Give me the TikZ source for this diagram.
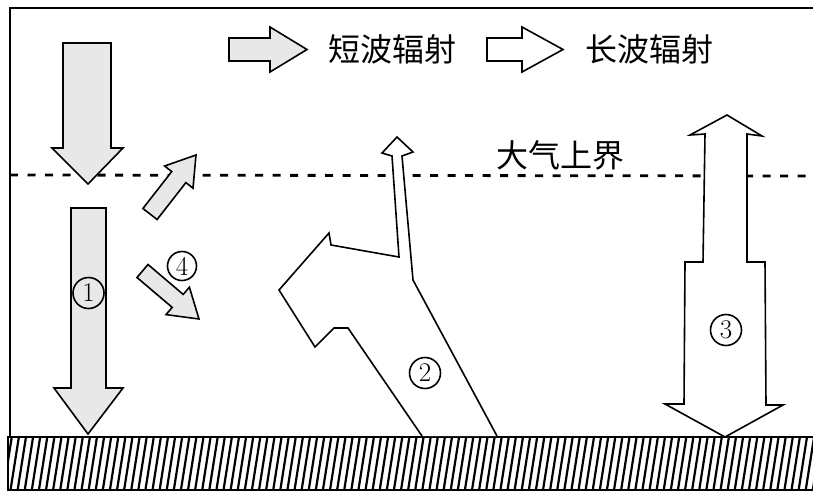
\documentclass[tikz,border=0pt]{standalone}
\usepackage{fontspec}
\newfontfamily\cjk{Noto Sans CJK SC}
\definecolor{swgray}{HTML}{E8E8E8}
\begin{document}
\begin{tikzpicture}[x=1pt,y=-1pt,
  swarrow/.style={draw=black, line width=1.6pt, fill=swgray, line join=miter},
  lwarrow/.style={draw=black, line width=1.6pt, fill=white, line join=miter},
  frameline/.style={line width=1.8pt},
  numlabel/.style={circle, draw, line width=1.6pt, inner sep=0pt, minimum size=31pt, font=\fontsize{27}{27}\selectfont},
  cjklabel/.style={font=\cjk\fontsize{32}{32}\selectfont, inner sep=0pt}]
\useasboundingbox (0,0) rectangle (813,496);
\fill[white] (0,0) rectangle (813,496);
% frame
\draw[frameline] (813,8) -- (10,8) -- (10,437);
% dashed top of atmosphere
\draw[line width=2.8pt, dash pattern=on 8pt off 9.5pt] (10,175) -- (813,176);
% ground hatching
\begin{scope}
\clip (8,437) rectangle (813,490);
\foreach \i in {0,...,117} {
  \draw[line width=2.2pt] ({-4+7.1*\i},492) -- ({5+7.1*\i},435);
}
\end{scope}
\draw[frameline] (813,437) -- (8,437) -- (8,490) -- (813,490);
% legend arrows
\draw[swarrow] (229,38) -- (270,38) -- (270,27) -- (307,49.5) -- (270,72) -- (270,61) -- (229,61) -- cycle;
\node[cjklabel] (sw) at (392,49) {短波辐射};
\draw[lwarrow] (487,38) -- (522,38) -- (522,27) -- (563,49.5) -- (522,72) -- (522,61) -- (487,61) -- cycle;
\node[cjklabel] (lw) at (649,49) {长波辐射};
\node[cjklabel] (toa) at (560,155) {大气上界};
% arrow 1 (incoming solar)
\draw[swarrow] (63,43) -- (111,43) -- (111,148) -- (123,148) -- (88,184) -- (52,148) -- (63,148) -- cycle;
\draw[swarrow] (71,208) -- (106,208) -- (106,388) -- (123,388) -- (88,434) -- (54,388) -- (71,388) -- cycle;
\node[numlabel] (n1) at (88.5,293) {1};
% reflected up
\draw[swarrow] (142.9,208.5) -- (171.7,171.6) -- (164.6,166.0) -- (196,155) -- (193.0,188.2) -- (185.9,182.6) -- (157.1,219.5) -- cycle;
% arrow 4
\draw[swarrow] (137,277.5) -- (172.2,307.4) -- (166.0,314.6) -- (199,319) -- (189.4,287.2) -- (183.2,294.4) -- (148,264.5) -- cycle;
\node[numlabel, minimum size=29pt] (n4) at (182,266) {4};
% arrow 2 (ground radiation)
\draw[lwarrow] (422,436) -- (348,328) -- (334,328) -- (315,347) -- (279,290) -- (329,233) -- (331,245) -- (399,257) -- (392,156) -- (382,153) -- (397,137) -- (413,152) -- (402,156) -- (413,280) -- (497,436);
\node[numlabel] (n2) at (425,373) {2};
% arrow 3 (atmospheric counter radiation)
\draw[lwarrow] (727,115) -- (762,136) -- (747,134) -- (747,262) -- (765,262) -- (766,405) -- (783,405) -- (725,437) -- (665,404) -- (684,404) -- (685,262) -- (703,262) -- (705,134) -- (690,135) -- cycle;
\node[numlabel] (n3) at (726,330) {3};
\end{tikzpicture}
\end{document}
